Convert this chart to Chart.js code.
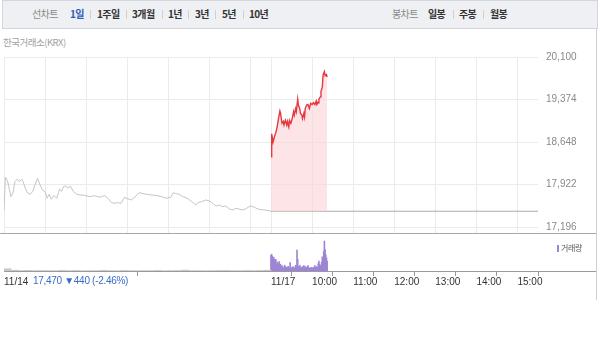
<!DOCTYPE html>
<html><head><meta charset="utf-8">
<script src="https://cdn.jsdelivr.net/npm/chart.js@4.4.0/dist/chart.umd.min.js"></script>
<style>
html,body{margin:0;padding:0;background:#fff;width:600px;height:338px;overflow:hidden;font-family:"Noto Sans CJK KR","Liberation Sans",sans-serif;}
#bar{position:absolute;left:2px;top:0;width:594px;height:27px;background:#eef0f3;border:1px solid #d3d6da;}
.t{position:absolute;top:0;line-height:28px;height:28px;font-size:10px;white-space:nowrap;letter-spacing:-0.6px;color:#333;font-weight:bold;}
.g{color:#888;font-weight:normal;}
.sel{color:#2f5cb8;}
.sep{position:absolute;top:10px;width:1px;height:9px;background:#d0d0d0;}
#krx{position:absolute;left:3px;top:35px;font-size:9.5px;color:#a0a0a0;letter-spacing:-0.5px;white-space:nowrap;}
#main{position:absolute;left:0;top:50px;}
#vol{position:absolute;left:0;top:234px;}
#hline{position:absolute;left:0;top:233px;width:597px;height:1px;background:#a8a8a8;}
#vline{position:absolute;left:4px;top:271px;width:593px;height:1px;background:#9a9a9a;}
#rline{position:absolute;left:596px;top:28px;width:1px;height:272px;background:#cfcfcf;}
#leg{position:absolute;left:557px;top:242px;font-size:8px;color:#555;white-space:nowrap;letter-spacing:-0.4px;}
#leg i{display:inline-block;width:2px;height:7px;background:#9d86d4;margin-right:2px;vertical-align:-1px;}
#chg{position:absolute;left:33px;top:275px;font-family:"Liberation Sans",sans-serif;font-size:10px;letter-spacing:-0.3px;color:#3a6cc6;white-space:nowrap;}
</style></head>
<body>
<div id="bar"></div>
<div class="t g" style="left:32px">선차트</div>
<div class="t sel" style="left:70px">1일</div>
<div class="sep" style="left:90px"></div>
<div class="t" style="left:97px">1주일</div>
<div class="sep" style="left:126px"></div>
<div class="t" style="left:132px">3개월</div>
<div class="sep" style="left:162px"></div>
<div class="t" style="left:168px">1년</div>
<div class="sep" style="left:188px"></div>
<div class="t" style="left:195px">3년</div>
<div class="sep" style="left:215px"></div>
<div class="t" style="left:222px">5년</div>
<div class="sep" style="left:243px"></div>
<div class="t" style="left:249px">10년</div>
<div class="t g" style="left:392px">봉차트</div>
<div class="t" style="left:428px">일봉</div>
<div class="sep" style="left:453px"></div>
<div class="t" style="left:459px">주봉</div>
<div class="sep" style="left:483px"></div>
<div class="t" style="left:490px">월봉</div>
<div id="krx">한국거래소(KRX)</div>
<canvas id="main" width="600" height="183"></canvas>
<div id="hline"></div>
<canvas id="vol" width="600" height="61"></canvas>
<div id="vline"></div>
<div id="rline"></div>
<div id="leg"><i></i>거래량</div>
<div id="chg">17,470 ▼440 (-2.46%)</div>
<script>
// ---- data (x = minutes since 09:00 of 11/14; 11/17 session starts at 390) ----
const yTicks = [17196, 17922, 18648, 19374, 20100];
const prevClose = 17470;
const xTickMinutes = [0, 390, 450, 510, 570, 630, 690, 750];
const xTickLabels = ['11/14', '11/17', '10:00', '11:00', '12:00', '13:00', '14:00', '15:00'];
const gridMinutes = [0, 60, 120, 180, 240, 300, 360, 390, 450, 510, 570, 630, 690, 750];

const day1Minutes = [0,2,5,8,10,13,16,19,22,26,28,31,34,38,42,45,49,52,56,60,63,66,69,73,77,81,84,87,90,94,97,101,106,111,118,125,132,140,147,152,157,162,166,171,176,181,186,191,194,198,203,208,215,222,230,237,244,247,251,256,261,266,271,276,280,284,289,295,301,306,310,314,319,324,329,334,339,343,348,353,358,362,367,373,380,387,390];
const day1Prices = [17480,18050,17994,17833,17719,17777,17975,18016,17975,18016,17975,17862,17787,17760,17804,17919,18033,17936,17833,17804,17691,17760,17674,17740,17691,17845,17811,17890,17901,17862,17901,17811,17760,17748,17740,17719,17735,17708,17740,17691,17617,17606,17617,17606,17708,17680,17663,17708,17748,17787,17770,17760,17748,17740,17719,17691,17710,17787,17770,17760,17720,17700,17663,17617,17577,17617,17635,17663,17640,17594,17560,17577,17548,17560,17509,17492,17520,17509,17492,17510,17548,17560,17530,17500,17492,17480,17470];

const day2Minutes = [0,1,3,5,7,9,11,13,14,16,18,19,21,23,24,26,27,29,31,33,34,36,37,39,40,42,43,45,46,48,49,50,52,54,56,58,60,62,64,66,67,69,70,72,73,75,76,78,79,81,82];
const day2Prices = [18400,18790,18650,18740,18810,18910,19050,19180,19140,18970,19000,18940,19020,18940,19000,18910,19020,18970,19050,19170,19110,19220,19170,19380,19280,19220,19140,19110,19050,19140,19080,19220,19280,19290,19220,19310,19290,19320,19290,19350,19290,19320,19380,19420,19510,19590,19790,19850,19780,19800,19760];

const day1VolMinutes = [5,15,25,35,45,55,65,75,85,95,105,115,125,135,145,155,165,175,185,195,205,215,225,235,245,255,265,275,285,295,305,315,325,335,345,355,365,375,385];
const day1Volumes = [22,8,5,6,4,5,4,3,6,4,5,3,4,4,7,4,3,5,4,3,4,4,6,3,4,5,9,4,4,3,4,5,6,4,3,5,4,5,7];
const day2Volumes = [150,160,140,100,130,110,80,110,60,85,75,65,90,55,65,40,50,45,30,20,55,40,30,35,28,45,32,30,80,35,20,32,42,30,22,35,55,38,200,110,45,30,55,32,35,30,42,28,52,30,42,35,30,42,52,32,28,20,28,35,30,25,35,32,52,30,42,32,35,70,95,62,52,35,85,135,115,185,285,205,155,125,95];

const session = 390;
const font = {family: 'Liberation Sans', size: 10};
const noPad = s => { s.paddingTop = 0; s.paddingBottom = 0; };

new Chart(document.getElementById('main'), {
  type: 'line',
  data: {datasets: [
    {data: day1Minutes.map((m, i) => ({x: m, y: day1Prices[i]})), borderColor: '#c4c4c4', borderWidth: 1, pointRadius: 0, tension: 0, fill: false},
    {data: day2Minutes.map((m, i) => ({x: session + m, y: day2Prices[i]})), borderColor: '#e5383f', borderWidth: 1.4, pointRadius: 0, tension: 0, fill: {value: prevClose}, backgroundColor: 'rgba(252,214,218,0.65)'},
    {data: [{x: session, y: prevClose}, {x: 2 * session, y: prevClose}], borderColor: '#aaaaaa', borderWidth: 1, pointRadius: 0, fill: false}
  ]},
  options: {
    animation: false, responsive: false, maintainAspectRatio: false,
    plugins: {legend: {display: false}, tooltip: {enabled: false}},
    layout: {padding: {left: 4, top: 7, right: 0, bottom: 0}},
    scales: {
      x: {type: 'linear', min: 0, max: 2 * session,
          afterBuildTicks: s => { s.ticks = gridMinutes.map(v => ({value: v})); },
          ticks: {display: false}, grid: {color: '#ebebeb', drawTicks: false}, border: {display: false},
          afterFit: s => { s.height = 0; s.paddingLeft = 0; s.paddingRight = 0; }},
      y: {position: 'right', min: 17099, max: 20100,
          afterBuildTicks: s => { s.ticks = yTicks.map(v => ({value: v})); },
          ticks: {padding: 8, color: '#8a8a8a', font: font, callback: v => v.toLocaleString('en-US')},
          grid: {color: '#ebebeb', drawTicks: false}, border: {display: false},
          afterFit: s => { s.width = 62; noPad(s); }}
    }
  }
});

new Chart(document.getElementById('vol'), {
  type: 'bar',
  data: {datasets: [
    {data: day1VolMinutes.map((m, i) => ({x: m, y: day1Volumes[i]})), backgroundColor: '#c8c8c8', barThickness: 7},
    {data: day2Volumes.map((v, i) => ({x: session + i, y: v})), backgroundColor: '#9d86d4', barThickness: 1}
  ]},
  options: {
    animation: false, responsive: false, maintainAspectRatio: false,
    plugins: {legend: {display: false}, tooltip: {enabled: false}},
    layout: {padding: {left: 4, top: 6, right: 62, bottom: 0}},
    datasets: {bar: {grouped: false}},
    scales: {
      x: {type: 'linear', min: 0, max: 2 * session, offset: false,
          afterBuildTicks: s => { s.ticks = xTickMinutes.map(v => ({value: v})); },
          ticks: {align: 'start', padding: 0, color: '#333', font: font, autoSkip: false, maxRotation: 0,
                  callback: (v, i) => xTickLabels[i]},
          grid: {drawOnChartArea: false, tickLength: 5, color: '#999'}, border: {display: false},
          afterFit: s => { s.height = 24; s.paddingLeft = 0; s.paddingRight = 0; }},
      y: {display: false, min: 0, max: 295}
    }
  }
});
</script>
</body></html>
